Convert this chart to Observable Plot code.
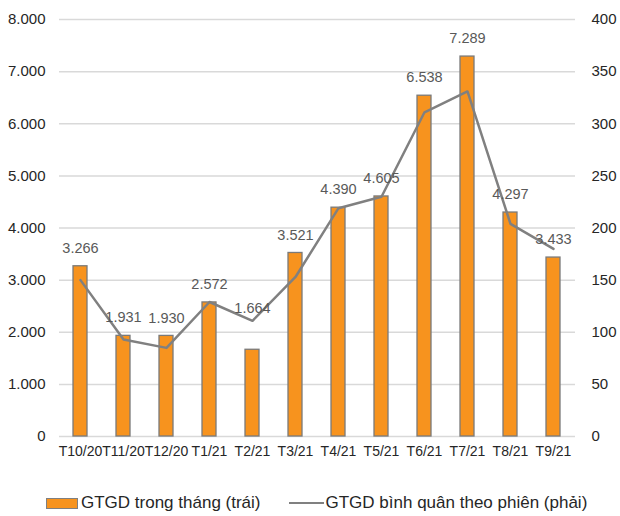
<!DOCTYPE html>
<html>
<head>
<meta charset="utf-8">
<script src="https://cdn.jsdelivr.net/npm/d3@7"></script>
<script src="https://cdn.jsdelivr.net/npm/@observablehq/plot@0.6"></script>
<style>
  html, body { margin: 0; padding: 0; background: #fff; }
  body { width: 620px; height: 516px; position: relative; font-family: "Liberation Sans", Arial, sans-serif; overflow: hidden; }
  #chart { position: absolute; left: 0; top: 0; }
  .legend { position: absolute; top: 492px; left: 46px; height: 22px; display: flex; align-items: center; font-size: 17px; color: #262626; white-space: nowrap; }
  .sw-bar { width: 30px; height: 9px; background: #F7931E; border: 1px solid #7f7f7f; margin-right: 3px; }
  .sw-line { width: 35px; height: 0; border-top: 2px solid #808080; margin-left: 28px; margin-right: 2px; }
</style>
</head>
<body>
<div id="chart"></div>
<div class="legend">
  <div class="sw-bar"></div><span>GTGD trong tháng (trái)</span>
  <div class="sw-line"></div><span>GTGD bình quân theo phiên (phải)</span>
</div>
<script>
const months = ["T10/20","T11/20","T12/20","T1/21","T2/21","T3/21","T4/21","T5/21","T6/21","T7/21","T8/21","T9/21"];
const monthlyValue = [3266, 1931, 1930, 2572, 1664, 3521, 4390, 4605, 6538, 7289, 4297, 3433];
const sessionAvg = [150, 93, 85, 129, 111, 153, 219, 230, 311, 331, 204, 180];
const leftTicks = [0, 1000, 2000, 3000, 4000, 5000, 6000, 7000, 8000];
const rightTicks = [0, 50, 100, 150, 200, 250, 300, 350, 400];

const ratio = 8000 / 400;
const vn = d3.formatLocale({decimal: ",", thousands: ".", grouping: [3], currency: ["", ""]});
const fmt = vn.format(",d");

const data = months.map((m, i) => ({month: m, value: monthlyValue[i], avg: sessionAvg[i] * ratio}));

const chart = Plot.plot({
  width: 620,
  height: 470,
  marginLeft: 59,
  marginRight: 45,
  marginTop: 19,
  marginBottom: 34,
  style: {fontFamily: "Liberation Sans, Arial, sans-serif", fontSize: "15px", color: "#262626", background: "white"},
  x: {domain: months, paddingInner: 0.67, paddingOuter: 0.335, label: null},
  y: {domain: [0, 8000], label: null},
  marks: [
    Plot.gridY(leftTicks, {stroke: "#d9d9d9", strokeOpacity: 1, strokeWidth: 1.5}),
    Plot.axisY({ticks: leftTicks, tickFormat: fmt, tickSize: 0, tickPadding: 14, label: null, fontSize: 15}),
    Plot.axisY({anchor: "right", ticks: rightTicks.map(d => d * ratio), tickFormat: d => String(d / ratio), tickSize: 0, tickPadding: 16, label: null, fontSize: 15, textAnchor: "start"}),
    Plot.axisX({tickSize: 0, tickPadding: 10, label: null, fontSize: 14}),
    Plot.barY(data, {x: "month", y: "value", fill: "#F7931E", stroke: "#7a7a7a", strokeWidth: 1.3}),
    Plot.line(data, {x: "month", y: "avg", stroke: "#808080", strokeWidth: 2.5}),
    Plot.text(data.filter(d => d.month !== "T2/21"), {x: "month", y: "value", text: d => fmt(d.value), dy: -18, fill: "#595959", fontSize: 14.5}),
    Plot.text(data.filter(d => d.month === "T2/21"), {x: "month", y: "value", text: d => fmt(d.value), dy: -41, fill: "#595959", fontSize: 14.5})
  ]
});
document.getElementById("chart").appendChild(chart);
</script>
</body>
</html>
